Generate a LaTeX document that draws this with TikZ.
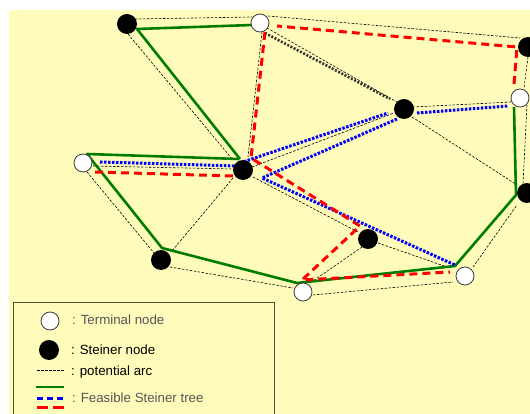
\documentclass[tikz,border=0pt]{standalone}
\usepackage{fontspec}
\setmainfont{Liberation Sans}
\usetikzlibrary{calc}
\definecolor{paper}{RGB}{255,252,187}
\definecolor{treegreen}{RGB}{0,125,0}
\definecolor{rim}{RGB}{60,60,60}
\definecolor{legtext}{RGB}{85,85,85}
\definecolor{boxline}{RGB}{80,80,60}
\pgfdeclarelayer{edges}
\pgfsetlayers{edges,main}
\tikzset{
  terminal/.style={circle, fill=white, draw=rim, line width=0.8pt, minimum size=18pt, inner sep=0pt},
  steiner/.style={circle, fill=black, minimum size=20pt, inner sep=0pt},
  potarc/.style={draw=black, line width=0.6pt, dash pattern=on 2.5pt off 1.5pt},
  greentree/.style={draw=treegreen, line width=2.6pt, line join=round},
  bluetree/.style={draw=blue, line width=3pt, dash pattern=on 2.5pt off 1.5pt},
  redtree/.style={draw=red, line width=3pt, dash pattern=on 8pt off 5pt},
  darkdot/.style={draw=black!80, line width=2.6pt, dash pattern=on 2pt off 1.6pt},
  legend/.style={anchor=west, inner sep=0pt, font=\fontsize{13.3}{15}\selectfont}
}
\begin{document}
\begin{tikzpicture}[x=1pt,y=-1pt]
\useasboundingbox (0,0) rectangle (530,414);

% graph vertices
\node[steiner]  (A) at (127,24)  {};
\node[terminal] (B) at (260,23)  {};
\node[steiner]  (C) at (528,47)  {};
\node[terminal] (D) at (520,98)  {};
\node[steiner]  (E) at (404,109) {};
\node[terminal] (F) at (83,163)  {};
\node[steiner]  (G) at (243,170) {};
\node[steiner]  (H) at (527,193) {};
\node[steiner]  (I) at (368,239) {};
\node[steiner]  (J) at (161,260) {};
\node[terminal] (K) at (465,276) {};
\node[terminal] (L) at (303,292) {};

\begin{pgfonlayer}{edges}
\fill[paper] (9,10) rectangle (530,414);

% potential arcs
\draw[potarc] ($(A)+(8,-5)$) -- ($(B)+(-8,-6)$);
\draw[potarc] ($(A)+(1,10)$) -- ($(G)+(-10,-10)$);
\draw[potarc] ($(B)+(8,-7)$) -- ($(C)+(-8,-9)$);
\draw[potarc] ($(B)+(2,9)$) -- ($(G)+(5,-13)$);
\draw[potarc] ($(B)+(7,5)$) -- ($(E)+(-7,-7)$);
\draw[potarc] ($(C)+(0,10)$) -- ($(D)+(4,-10)$);
\draw[potarc] ($(D)+(-9,4)$) -- ($(E)+(9,-2)$);
\draw[potarc] ($(D)+(7,7)$) -- ($(H)+(-4,-9)$);
\draw[potarc] ($(E)+(8,8)$) -- ($(H)+(-10,-8)$);
\draw[potarc] ($(G)+(9,-3)$) -- ($(E)+(-10,4)$);
\draw[potarc] ($(F)+(10,3)$) -- ($(G)+(-10,-1)$);
\draw[potarc] ($(F)+(4,9)$) -- ($(J)+(-7,-7)$);
\draw[potarc] ($(G)+(-10,8)$) -- ($(J)+(11,-9)$);
\draw[potarc] ($(G)+(10,7)$) -- ($(I)+(-10,-7)$);
\draw[potarc] ($(I)+(10,4)$) -- ($(K)+(-15,-8)$);
\draw[potarc] ($(I)+(-6,8)$) -- ($(L)+(7,-9)$);
\draw[potarc] ($(J)+(9,7)$) -- ($(L)+(-10,-4)$);
\draw[potarc] ($(L)+(10,3)$) -- ($(K)+(-12,6)$);
\draw[potarc] ($(K)+(8,-9)$) -- ($(H)+(-10,12)$);
\draw[darkdot] ($(B)+(5,10)$) -- ($(E)+(-14,-10)$);

% first Steiner tree (solid)
\draw[greentree] ($(B)+(-8,2)$) -- ($(A)+(10,5)$) -- ($(G)+(-3,-11)$);
\draw[greentree] ($(G)+(-4,-11)$) -- ($(F)+(4,-9)$) -- ($(J)+(1,-12)$)
  -- ($(L)+(-6,-9)$) -- ($(K)+(-10,-10)$) -- ($(H)+(-11,2)$) -- ($(D)+(-6,9)$);

% second Steiner tree (dotted)
\draw[bluetree] ($(F)+(17,-1)$) -- ($(G)+(-6,-4)$);
\draw[bluetree] ($(G)+(-3,-7)$) -- ($(E)+(-16,4)$);
\draw[bluetree] ($(E)+(-7,10)$) -- ($(G)+(19,8)$) -- ($(K)+(-10,-11)$);
\draw[bluetree] ($(E)+(13,4)$) -- ($(D)+(-12,8)$);

% third Steiner tree (dashed)
\draw[redtree] ($(F)+(12,9)$) -- ($(G)+(-10,6)$);
\draw[redtree] ($(D)+(-6,-14)$) -- ($(C)+(-11,0)$) -- ($(B)+(17,3)$);
\draw[redtree] ($(B)+(5,9)$) -- ($(G)+(8,-12)$) -- ($(I)+(-8,-13)$)
  -- ($(L)+(-1,-12)$) -- ($(K)+(-15,-4)$);
\end{pgfonlayer}

% legend
\draw[boxline, line width=1pt, fill=paper] (13,302) rectangle (274,420);
\node[terminal] (lt) at (50,321) {};
\node[steiner]  (ls) at (49,350) {};
\coordinate (pa1) at (37,370); \coordinate (pa2) at (64,370);
\coordinate (ga1) at (36,387); \coordinate (ga2) at (64,387);
\coordinate (ba1) at (37,398); \coordinate (ba2) at (64,398);
\coordinate (ra1) at (37,407); \coordinate (ra2) at (64,407);
\draw[potarc] (pa1) -- (pa2);
\draw[greentree] (ga1) -- (ga2);
\draw[bluetree, dash pattern=on 6pt off 4pt] (ba1) -- (ba2);
\draw[redtree, dash pattern=on 11pt off 5pt] (ra1) -- (ra2);
\node[legend, text=legtext] (t1) at (72,320) {: Terminal node};
\node[legend, text=black]   (t2) at (71,350) {: Steiner node};
\node[legend, text=black]   (t3) at (71,372) {: potential arc};
\node[legend, text=legtext] (t4) at (72,398) {: Feasible Steiner tree};
\end{tikzpicture}
\end{document}
